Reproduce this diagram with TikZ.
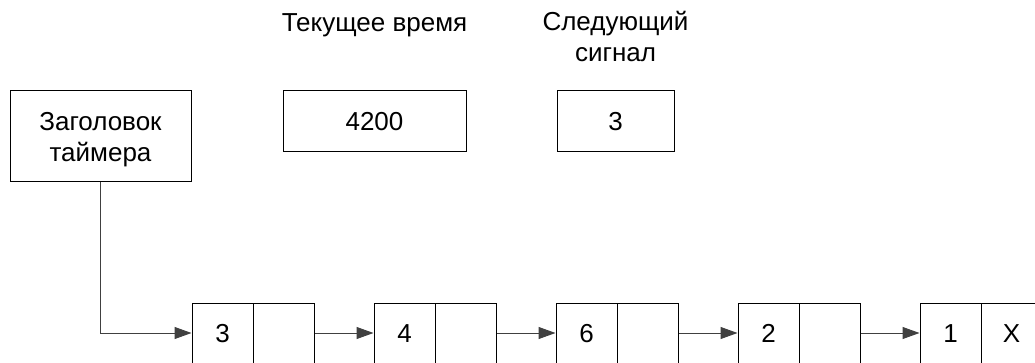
\documentclass[tikz,border=0pt]{standalone}
\usepackage{fontspec}
\setmainfont{Liberation Sans}
\usetikzlibrary{arrows.meta}
\definecolor{linkgray}{HTML}{404040}
\begin{document}
\begin{tikzpicture}[x=1pt,y=-1pt,
  every node/.style={font=\fontsize{26}{31}\selectfont, inner sep=0pt, align=center},
  box/.style={draw=black, line width=1pt},
  cell/.style={box, minimum width=61pt, minimum height=60pt, text height=18.5pt, text depth=0pt},
  link/.style={draw=linkgray, line width=1pt, -{Triangle[length=17pt,width=12pt]}}]
  \useasboundingbox (0,0) rectangle (1035,363);

  % header block and the two state fields
  \node[box, minimum width=181pt, minimum height=91pt] (hdr) at (100.5,136.5) {};
  \node[anchor=base] (hdrtxt) at (100.5,162) {Заголовок\\таймера};
  \node[box, minimum width=183pt, minimum height=61pt, text height=18.5pt, text depth=0pt] (now) at (374.5,121.5) {4200};
  \node[box, minimum width=117pt, minimum height=61pt, text height=18.5pt, text depth=0pt] (nxt) at (615.5,121.5) {3};
  \node[anchor=base] (nowlbl) at (374.5,32) {Текущее время};
  \node[anchor=base] (nxtlbl) at (615.5,62) {Следующий\\сигнал};

  % list of timer entries: value cell + pointer cell
  \foreach \i/\v/\p in {1/3/{}, 2/4/{}, 3/6/{}, 4/2/{}, 5/1/X} {
    \pgfmathsetmacro{\xa}{192+182*(\i-1)+30.5}
    \pgfmathsetmacro{\xb}{\xa+61}
    \node[cell] (v\i) at (\xa,333) {\v};
    \node[cell] (p\i) at (\xb,333) {\p};
  }

  % connectors
  \draw[link] (hdr.south) |- (v1.west);
  \foreach \i [evaluate=\i as \j using int(\i+1)] in {1,...,4}
    \draw[link] (p\i.east) -- (v\j.west);
\end{tikzpicture}
\end{document}
